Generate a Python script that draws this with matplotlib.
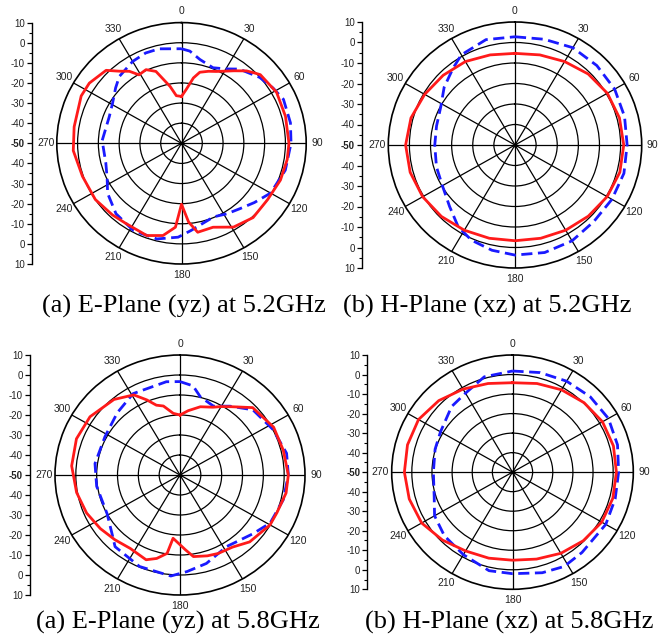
import numpy as np
import matplotlib
matplotlib.use("Agg")
import matplotlib.pyplot as plt

# (a) E-plane 5.2 GHz
e52_red_ang = [0, 5, 10, 14, 20, 25, 30, 35, 41, 45, 48, 61, 75, 90, 99, 111, 124, 137, 149, 160, 170,
               175, 180, 184, 191, 200, 214, 223, 236, 251, 266, 279, 296, 304, 315, 320, 325, 329,
               335, 341, 349, 354]
e52_red = [-26.7, -23.0, -17.0, -13.6, -11.9, -10.6, -8.6, -6.0, -2.3, -0.5, 1.0, 2.3, 1.8, 1.7, 1.5,
           1.0, 0.0, 0.5, -1.4, -5.6, -5.1, -10.7, -19.7, -8.2, -3.3, -1.2, -2.0, -1.3, 0.0, 0.4, 2.2,
           2.3, 3.7, 3.5, 1.3, -3.2, -6.3, -10.3, -9.6, -12.2, -21.2, -26.2]
e52_blue_ang = [0, 5, 12, 22, 30, 37, 49, 58, 66, 79, 90, 105, 120, 130, 139, 148, 157, 166, 174, 182,
                194, 208, 222, 235, 244, 255, 272, 291, 301, 311, 318, 330, 339, 347]
e52_blue = [-3.0, -4.0, -7.4, -9.5, -7.3, -3.8, -0.1, 1.9, 3.7, 3.4, 2.7, 1.7, -0.5, -4.2, -7.0, -8.7,
            -10.3, -8.8, -6.4, -3.3, -1.0, -0.8, -2.9, -6.6, -10.2, -12.3, -11.8, -12.8, -11.3, -8.0,
            -5.3, -3.0, -1.9, -1.8]

# (b) H-plane 5.2 GHz
h52_red_ang = [0, 15, 30, 45, 60, 75, 90, 105, 120, 135, 150, 165, 180, 195, 210, 225, 240, 255, 270,
               285, 300, 315, 330, 345]
h52_red = [-5.3, -4.5, -3.0, -1.0, 0.5, 1.2, 1.5, 1.4, 0.4, -0.9, -2.0, -2.9, -3.3, -2.9, -2.0, -0.7,
           0.5, 1.4, 1.8, 1.0, -0.6, -1.9, -3.0, -4.5]
h52_blue_ang = [0, 15, 30, 45, 60, 75, 90, 105, 120, 135, 150, 165, 180, 192, 204, 214, 226, 240, 254,
                270, 284, 298, 310, 322, 330, 345]
h52_blue = [2.8, 3.4, 4.8, 4.8, 4.5, 3.7, 3.1, 3.4, 3.0, 2.8, 4.0, 4.3, 3.7, 2.5, 0.8, -1.9, -6.9,
            -10.3, -11.3, -12.0, -11.7, -10.2, -6.2, -2.4, 0.8, 3.2]

# (a) E-plane 5.8 GHz
e58_red_ang = [0, 7, 16, 25, 30, 36, 46, 62, 76, 90, 100, 112, 120, 135, 145, 155, 162, 171, 176, 186,
               189, 195, 201, 213, 224, 235, 247, 260, 275, 290, 304, 320, 331, 337, 342, 347, 354]
e58_red = [-20.0, -17.6, -14.5, -12.6, -10.5, -7.8, -1.5, 0.9, 1.1, 2.0, 1.7, 0.2, -0.1, -2.7, -6.0,
           -6.7, -7.5, -8.7, -12.5, -18.2, -10.3, -6.8, -4.6, -6.2, -5.0, -3.3, -1.3, 0.4, 2.2, 2.9,
           2.1, -0.7, -4.2, -9.2, -13.3, -14.6, -19.0]
e58_blue_ang = [0, 8, 14, 25, 35, 47, 63, 78, 90, 104, 119, 130, 141, 148, 164, 176, 185, 203, 221,
                228, 241, 262, 278, 298, 316, 331, 352]
e58_blue = [-3.3, -5.0, -9.7, -12.0, -8.0, -2.2, 0.1, 2.3, 2.0, 1.1, -0.5, -4.3, -7.0, -7.8, -4.0,
            -1.6, 0.7, -0.3, -2.5, -6.1, -10.0, -9.6, -8.8, -9.2, -6.7, -3.5, -2.9]

# (b) H-plane 5.8 GHz
h58_red_ang = [0, 15, 30, 45, 60, 75, 90, 105, 120, 135, 150, 165, 180, 195, 210, 225, 240, 255, 270,
               285, 300, 315, 330, 345]
h58_red = [-4.2, -3.0, -1.3, 0.3, 1.6, 1.9, 1.6, 1.6, 1.2, -0.3, -2.0, -3.9, -4.9, -4.4, -3.4, -0.8,
           2.1, 3.1, 3.7, 4.0, 3.9, 1.8, -0.9, -3.0]
h58_blue_ang = [0, 15, 30, 45, 60, 75, 90, 105, 120, 140, 152, 164, 180, 193, 210, 226, 240, 252, 270,
                287, 300, 318, 330, 344]
h58_blue = [1.8, 2.8, 3.8, 4.6, 5.0, 4.0, 2.7, 2.8, 3.5, 3.7, 4.7, 3.6, 2.0, 1.8, -1.2, -3.0, -5.3,
            -9.1, -10.7, -9.8, -8.7, -4.8, -3.3, 0.8]

captions = ["(a) E-Plane (yz) at 5.2GHz", "(b) H-Plane (xz) at 5.2GHz",
            "(a) E-Plane (yz) at 5.8GHz", "(b) H-Plane (xz) at 5.8GHz"]

W, H = 670, 639
fig = plt.figure(figsize=(W / 100, H / 100), dpi=100)

# pixel boxes: polar (left, right, top, bottom), side scale x, caption centre
panels = [
    ((56.8, 306.2, 22.6, 264.0), 31.7, (184, 306), e52_red_ang, e52_red, e52_blue_ang, e52_blue),
    ((388.3, 641.7, 22.0, 268.0), 361.7, (487, 306), h52_red_ang, h52_red, h52_blue_ang, h52_blue),
    ((55.0, 305.0, 355.0, 595.0), 30.0, (178, 622), e58_red_ang, e58_red, e58_blue_ang, e58_blue),
    ((391.7, 633.3, 355.0, 589.3), 367.3, (509, 622), h58_red_ang, h58_red, h58_blue_ang, h58_blue),
]


def closed(ang, vals):
    a = np.deg2rad(np.append(ang, ang[0] + 360))
    return a, np.append(vals, vals[0])


for i, (box, sx, cap, ra, rv, ba, bv) in enumerate(panels):
    l, r, t, b = box
    ax = fig.add_axes([l / W, 1 - b / H, (r - l) / W, (b - t) / H], projection="polar")
    ax.set_aspect("auto")
    ax.set_theta_zero_location("N")
    ax.set_theta_direction(-1)
    ax.set_rlim(-50, 10)
    ax.set_rticks([-40, -30, -20, -10, 0])
    ax.set_yticklabels([])
    ax.set_thetagrids(range(0, 360, 30), [str(a) for a in range(0, 360, 30)],
                      fontsize=7.5, family="Liberation Sans", color="#222222")
    ax.tick_params(axis="x", pad=-2.5)
    ax.grid(True, color="black", lw=0.9)
    ax.spines["polar"].set_linewidth(1.2)
    ax.spines["polar"].set_color("black")

    ta, tv = closed(ba, bv)
    ax.plot(ta, tv, color="#1a1aff", lw=2.0, dashes=(4, 2), zorder=3)
    ta, tv = closed(ra, rv)
    ax.plot(ta, tv, color="#ff1a1a", lw=2.0, zorder=4)
    ax.plot([0], [-50], "k.", ms=4, zorder=5)
    ax.set_rlim(-50, 10)

    # side dB scale
    sa = fig.add_axes([sx / W, 1 - b / H, 0.002, (b - t) / H])
    for s in ["top", "right", "bottom"]:
        sa.spines[s].set_visible(False)
    sa.spines["left"].set_linewidth(1.0)
    sa.set_xticks([])
    sa.set_ylim(-60, 60)
    ticks = list(range(-60, 61, 10))
    sa.set_yticks(ticks)
    sa.set_yticks(range(-55, 60, 10), minor=True)
    sa.set_yticklabels([str(abs(v) - 50) for v in ticks], fontsize=7, family="Liberation Sans",
                       color="#222222")
    sa.tick_params(axis="y", which="major", length=3.5, width=0.9, pad=1.5)
    sa.tick_params(axis="y", which="minor", length=2, width=0.8)
    for lab in sa.get_yticklabels():
        if lab.get_text() == "-50":
            lab.set_fontweight("bold")

    fig.text(cap[0] / W, 1 - cap[1] / H, captions[i], ha="center", va="center",
             family="Liberation Serif", fontsize=19)

fig.savefig("out.png", dpi=100)
